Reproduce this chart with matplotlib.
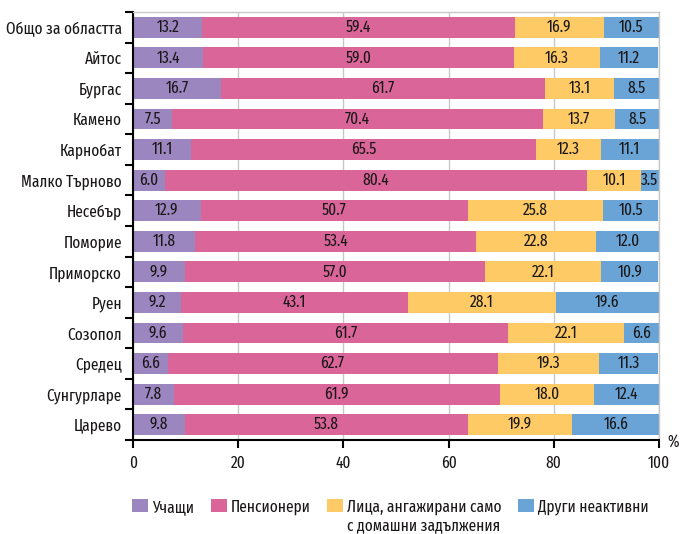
import matplotlib
matplotlib.use("Agg")
import matplotlib.pyplot as plt
import numpy as np

plt.rcParams["font.family"] = ["Fira Sans Extra Condensed", "DejaVu Sans"]
plt.rcParams["font.stretch"] = "condensed"

categories = ["Общо за областта", "Айтос", "Бургас", "Камено", "Карнобат",
              "Малко Търново", "Несебър", "Поморие", "Приморско", "Руен",
              "Созопол", "Средец", "Сунгурларе", "Царево"]
students = [13.2, 13.4, 16.7, 7.5, 11.1, 6.0, 12.9, 11.8, 9.9, 9.2, 9.6, 6.6, 7.8, 9.8]
pensioners = [59.4, 59.0, 61.7, 70.4, 65.5, 80.4, 50.7, 53.4, 57.0, 43.1, 61.7, 62.7, 61.9, 53.8]
household = [16.9, 16.3, 13.1, 13.7, 12.3, 10.1, 25.8, 22.8, 22.1, 28.1, 22.1, 19.3, 18.0, 19.9]
other = [10.5, 11.2, 8.5, 8.5, 11.1, 3.5, 10.5, 12.0, 10.9, 19.6, 6.6, 11.3, 12.4, 16.6]
series_labels = ["Учащи", "Пенсионери", "Лица, ангажирани само\nс домашни задължения",
                 "Други неактивни"]
x_ticks = [0, 20, 40, 60, 80, 100]

colors = ["#9b86bf", "#da6598", "#fdca66", "#6aa3d5"]
text_color = "#1a1718"
fs = 12

fig = plt.figure(figsize=(6.8, 5.34), dpi=100)
ax = fig.add_axes([133 / 680, 1 - 440 / 534, 526 / 680, 428 / 534])

y = np.arange(len(categories))
left = np.zeros(len(categories))
for vals, col, lab in zip([students, pensioners, household, other], colors, series_labels):
    vals = np.array(vals)
    ax.barh(y, vals, left=left, height=0.68, color=col, label=lab, zorder=2)
    for yi, l, v in zip(y, left, vals):
        ax.text(l + v / 2, yi, f"{v:.1f}", ha="center", va="center",
                fontsize=fs, color=text_color, zorder=3)
    left += vals

ax.set_xlim(0, 100)
ax.set_ylim(len(categories) - 0.5, -0.5)
ax.set_yticks(y)
ax.set_yticklabels(categories, fontsize=fs, color=text_color)
ax.tick_params(axis="y", which="major", length=0, pad=8)
ax.set_yticks(np.arange(-0.5, len(categories)), minor=True)
ax.tick_params(axis="y", which="minor", length=6, width=1.5, color="black")
ax.set_xticks(x_ticks)
ax.set_xticklabels([str(t) for t in x_ticks], fontsize=fs, color=text_color)
ax.tick_params(axis="x", length=6, width=1.5, color="black", pad=5)
ax.grid(axis="x", color="#c8c8c8", linewidth=1, zorder=0)
ax.set_axisbelow(True)

for s in ["left", "bottom"]:
    ax.spines[s].set_color("black")
    ax.spines[s].set_linewidth(1.5)
for s in ["top", "right"]:
    ax.spines[s].set_color("#c8c8c8")
    ax.spines[s].set_linewidth(1)

fig.text(667 / 680, 1 - 442 / 534, "%", fontsize=fs, color=text_color,
         ha="left", va="center")

leg = fig.legend(loc="upper left", bbox_to_anchor=(132 / 680, 1 - 499 / 534), ncol=4,
                 frameon=False, fontsize=fs, handlelength=0.95, handleheight=0.85,
                 handletextpad=0.25, columnspacing=1.0, labelcolor=text_color,
                 borderaxespad=0, borderpad=0)
# align every legend entry on its first text line
leg._legend_handle_box.align = "top"
for column in leg._legend_handle_box.get_children():
    for entry in column.get_children():
        entry.align = "top"

fig.savefig("out.png", dpi=100)
